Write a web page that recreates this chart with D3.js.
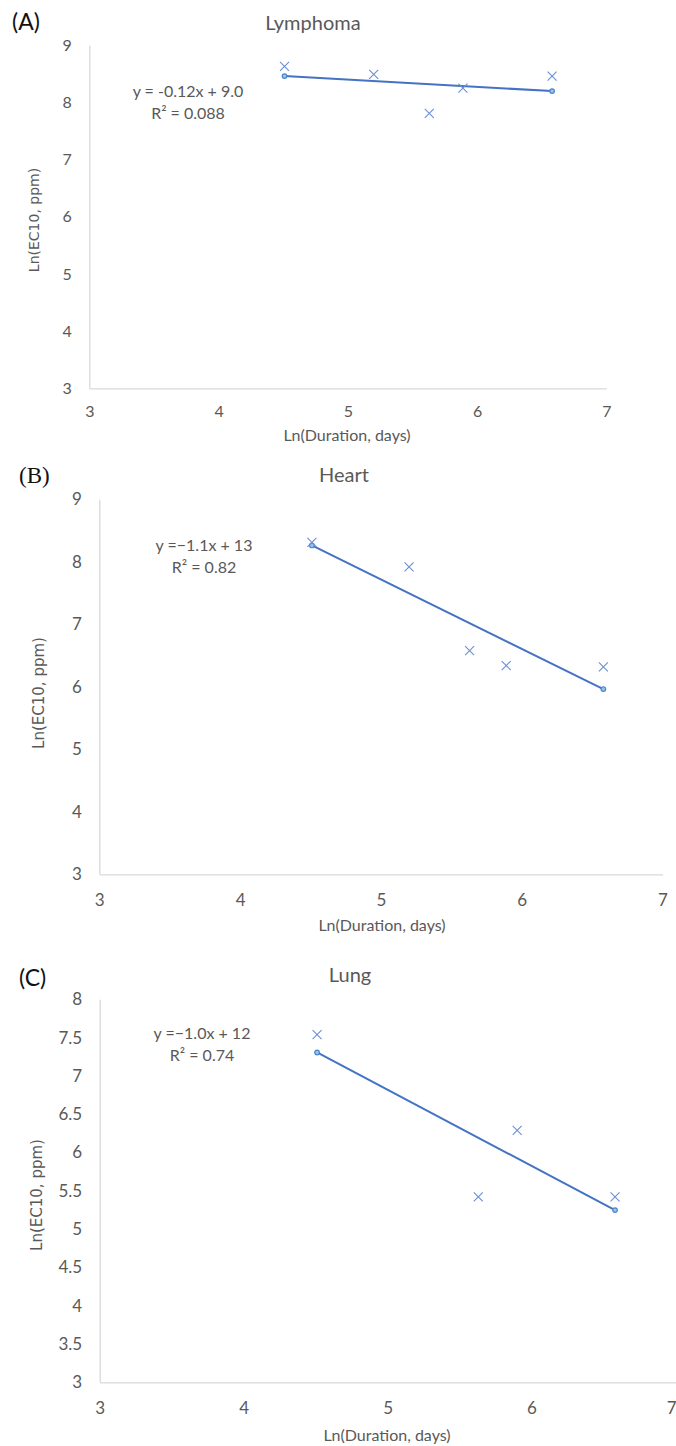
<!DOCTYPE html>
<html>
<head>
<meta charset="utf-8">
<script src="https://cdn.jsdelivr.net/npm/d3@7"></script>
<style>
  body { margin: 0; background: #fff; }
  text { font-family: Lato, "Open Sans", sans-serif; fill: #595959; }
</style>
</head>
<body>
<div class="chart"></div>
<script>
var width = 676,
    height = 1446;

// ln(duration, days) and ln(EC10, ppm)
var durations = [4.51, 5.20, 5.63, 5.89, 6.58];
var lymphomaEC10 = [8.63, 8.49, 7.81, 8.25, 8.46];
var heartEC10 = [8.31, 7.92, 6.58, 6.34, 6.32];
var lungDurations = [4.51, 5.63, 5.90, 6.58];
var lungEC10 = [7.54, 5.42, 6.29, 5.42];

var xTicks = [3, 4, 5, 6, 7];
var yTicksAB = [3, 4, 5, 6, 7, 8, 9];
var yTicksC = [3, 3.5, 4, 4.5, 5, 5.5, 6, 6.5, 7, 7.5, 8];

var titles = ["Lymphoma", "Heart", "Lung"];
var tags = ["(A)", "(B)", "(C)"];
var equations = ["y = -0.12x + 9.0", "y =\u22121.1x + 13", "y =\u22121.0x + 12"];
var rSquared = ["R\u00b2 = 0.088", "R\u00b2 = 0.82", "R\u00b2 = 0.74"];

var panels = [
  { xs: durations, ys: lymphomaEC10, yTicks: yTicksAB, yDom: [3, 9],
    left: 89.3, right: 606.4, top: 45.3, bottom: 388.3,
    titleX: 313, titleY: 23, tagX: 12, tagY: 22, tagFont: "Lato",
    xTickDy: 23.5, xTitleX: 347, xTitleDy: 47, yTitleX: 34, yTitleY: 220, yTitleSize: 14,
    eqX: 188, eqY: 91, tickSize: 16 },
  { xs: durations, ys: heartEC10, yTicks: yTicksAB, yDom: [3, 9],
    left: 99.3, right: 662.5, top: 499.3, bottom: 874.3,
    titleX: 344, titleY: 475, tagX: 19, tagY: 475, tagFont: "Liberation Serif",
    xTickDy: 25.7, xTitleX: 382, xTitleDy: 51, yTitleX: 39, yTitleY: 693, yTitleSize: 15,
    eqX: 204, eqY: 545, tickSize: 17 },
  { xs: lungDurations, ys: lungEC10, yTicks: yTicksC, yDom: [3, 8],
    left: 99.7, right: 675.5, top: 999.3, bottom: 1382.3,
    titleX: 350, titleY: 975, tagX: 19, tagY: 978, tagFont: "Lato",
    xTickDy: 25.7, xTitleX: 387, xTitleDy: 53, yTitleX: 37, yTitleY: 1195, yTitleSize: 15,
    eqX: 202, eqY: 1033, tickSize: 17 }
];

var svg = d3.select(".chart").append("svg")
    .attr("width", width)
    .attr("height", height);

// plain least squares for the trendline
function fit(xs, ys) {
  var mx = d3.mean(xs), my = d3.mean(ys);
  var sxy = d3.sum(xs, function(x, i) { return (x - mx) * (ys[i] - my); });
  var sxx = d3.sum(xs, function(x) { return (x - mx) * (x - mx); });
  var m = sxy / sxx;
  return { m: m, b: my - m * mx };
}

panels.forEach(function(p, i) {
  var x = d3.scaleLinear().domain([3, 7]).range([p.left, p.right]);
  var y = d3.scaleLinear().domain(p.yDom).range([p.bottom, p.top]);
  var g = svg.append("g");

  // axes
  var xAxis = g.append("g")
      .attr("transform", "translate(0," + p.bottom + ")")
      .call(d3.axisBottom(x).tickValues(xTicks).tickSize(0).tickPadding(0).tickFormat(d3.format("d")));
  xAxis.select(".domain").attr("stroke", "#d9d9d9").attr("stroke-width", 1.3);
  xAxis.selectAll("text")
      .attr("y", p.xTickDy).attr("dy", "0.35em")
      .style("font-size", p.tickSize + "px").style("font-family", "Lato").attr("fill", "#595959");
  // last label of a panel that runs to the page edge: keep it inside
  xAxis.selectAll(".tick text")
      .filter(function(d) { return x(d) + 5 > width; })
      .attr("text-anchor", "end")
      .attr("x", width - x(7));

  var yAxis = g.append("g")
      .attr("transform", "translate(" + p.left + ",0)")
      .call(d3.axisLeft(y).tickValues(p.yTicks).tickSize(0).tickPadding(17.5).tickFormat(d3.format("")));
  yAxis.select(".domain").attr("stroke", "#d9d9d9").attr("stroke-width", 1.3);
  yAxis.selectAll("text")
      .style("font-size", p.tickSize + "px").style("font-family", "Lato").attr("fill", "#595959");

  // titles
  g.append("text")
      .attr("x", p.titleX).attr("y", p.titleY).attr("dy", "0.35em")
      .attr("text-anchor", "middle")
      .style("font-size", "20px")
      .text(titles[i]);

  g.append("text")
      .attr("x", p.tagX).attr("y", p.tagY).attr("dy", "0.35em")
      .style("font-size", "23px").style("font-family", p.tagFont)
      .style("fill", "#111")
      .text(tags[i]);

  g.append("text")
      .attr("x", p.xTitleX).attr("y", p.bottom + p.xTitleDy).attr("dy", "0.35em")
      .attr("text-anchor", "middle")
      .style("font-size", "16px")
      .text("Ln(Duration, days)");

  g.append("text")
      .attr("transform", "translate(" + p.yTitleX + "," + p.yTitleY + ") rotate(-90)")
      .attr("dy", "0.35em")
      .attr("text-anchor", "middle")
      .style("font-size", p.yTitleSize + "px").style("font-family", "DejaVu Sans")
      .text("Ln(EC10, ppm)");

  // trendline
  var f = fit(p.xs, p.ys);
  var ends = d3.extent(p.xs).map(function(v) { return [v, f.m * v + f.b]; });
  g.append("path")
      .datum(ends)
      .attr("d", d3.line().x(function(d) { return x(d[0]); }).y(function(d) { return y(d[1]); }))
      .attr("stroke", "#4472c4")
      .attr("stroke-width", 2)
      .attr("fill", "none");
  g.selectAll(".end")
      .data(ends)
      .enter().append("circle")
      .attr("cx", function(d) { return x(d[0]); })
      .attr("cy", function(d) { return y(d[1]); })
      .attr("r", 2.3)
      .attr("fill", "#9dc3e6")
      .attr("stroke", "#4a86d0")
      .attr("stroke-width", 1.2);

  // x markers
  var s = 4.5;
  g.selectAll(".pt")
      .data(p.xs.map(function(v, k) { return [v, p.ys[k]]; }))
      .enter().append("path")
      .attr("d", function(d) {
        var cx = x(d[0]), cy = y(d[1]);
        return "M" + (cx - s) + "," + (cy - s) + "L" + (cx + s) + "," + (cy + s) +
               "M" + (cx - s) + "," + (cy + s) + "L" + (cx + s) + "," + (cy - s);
      })
      .attr("stroke", "#6a8fd8")
      .attr("stroke-width", 1.1)
      .attr("fill", "none");

  // equation
  var eq = g.append("text")
      .attr("text-anchor", "middle")
      .style("font-size", "16px");
  eq.append("tspan").attr("x", p.eqX).attr("y", p.eqY).attr("dy", "0.35em").text(equations[i]);
  eq.append("tspan").attr("x", p.eqX).attr("y", p.eqY + 22.5).attr("dy", "0.35em").text(rSquared[i]);
});
</script>
</body>
</html>
